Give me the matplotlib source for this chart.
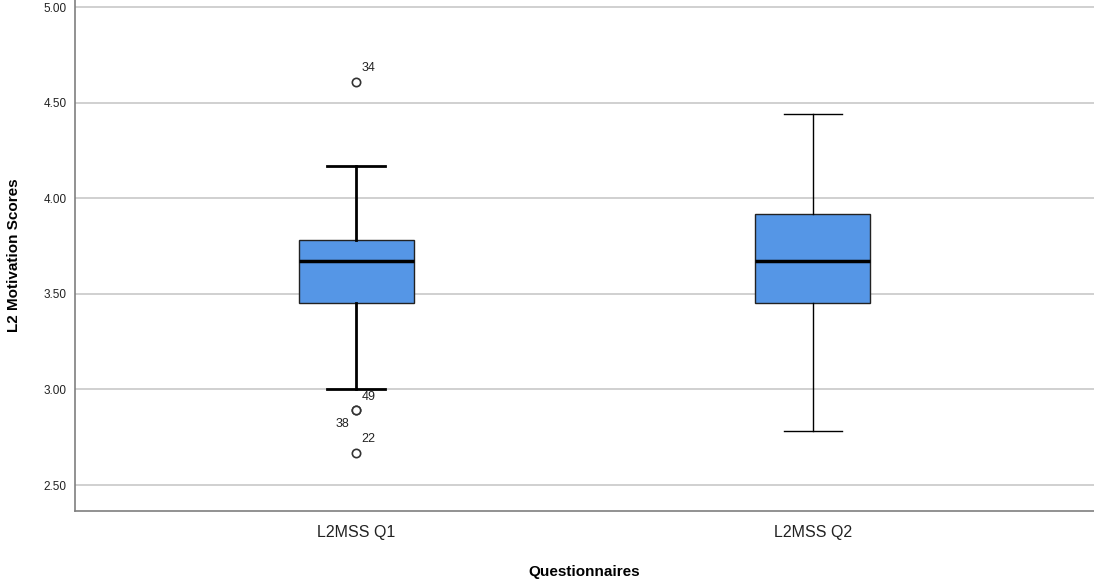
import matplotlib
matplotlib.use("Agg")
import matplotlib.pyplot as plt

categories = ["L2MSS Q1", "L2MSS Q2"]
whisker_low = [3.00, 2.78]
q1 = [3.45, 3.45]
median = [3.67, 3.67]
q3 = [3.78, 3.92]
whisker_high = [4.17, 4.44]
outliers = [[4.61, 2.89, 2.89, 2.67], []]
outlier_labels = [["34", "49", "38", "22"], []]
yticks = [2.50, 3.00, 3.50, 4.00, 4.50, 5.00]

plt.rcParams['font.family'] = ['Liberation Sans', 'DejaVu Sans']

fig = plt.figure(figsize=(10.94, 5.84), dpi=100)
ax = fig.add_axes([75/1094, (584-511)/584, 1 - 75/1094, 511/584])

positions = [1, 2]
for i, pos in enumerate(positions):
    stats = [{
        "whislo": whisker_low[i], "q1": q1[i], "med": median[i],
        "q3": q3[i], "whishi": whisker_high[i], "fliers": outliers[i],
        "label": categories[i],
    }]
    lw = 2.0 if i == 0 else 1.0
    ax.bxp(stats, positions=[pos], widths=0.252, patch_artist=True,
           showfliers=True,
           boxprops=dict(facecolor="#5596E6", edgecolor="#222222", linewidth=1.0),
           medianprops=dict(color="black", linewidth=2.5),
           whiskerprops=dict(color="black", linewidth=lw),
           capprops=dict(color="black", linewidth=lw),
           capwidths=0.126,
           flierprops=dict(marker="o", markerfacecolor="white", markeredgecolor="#333333",
                           markersize=6, markeredgewidth=1.2, linestyle="none"),
           zorder=3)

# outlier labels
offsets = {"34": (4, 10, "left"), "49": (4, 9.5, "left"), "38": (-5, -10, "right"), "22": (4, 9.5, "left")}
for i, pos in enumerate(positions):
    for v, lab in zip(outliers[i], outlier_labels[i]):
        dx, dy, ha = offsets[lab]
        ax.annotate(lab, (pos, v), xytext=(dx, dy), textcoords="offset points",
                    ha=ha, va="center", fontsize=9, color="#222222")

ax.set_xlim(0.384, 2.616)
ax.set_ylim(2.364, 5.037)
ax.set_yticks(yticks)
ax.set_yticklabels([f"{t:.2f}" for t in yticks], fontsize=8.5)
ax.set_xticks(positions)
ax.set_xticklabels(categories, fontsize=11.5)
ax.tick_params(axis="both", length=0, colors="#222222")
ax.tick_params(axis="x", pad=10)
ax.tick_params(axis="y", pad=6)
ax.yaxis.grid(True, color="#c8c8c8", linewidth=1.2, zorder=0)
ax.set_axisbelow(True)
for s in ["top", "right"]:
    ax.spines[s].set_visible(False)
for s in ["left", "bottom"]:
    ax.spines[s].set_color("#7f7f7f")
    ax.spines[s].set_linewidth(1.2)

ax.set_ylabel("L2 Motivation Scores", fontsize=11, fontweight="bold", labelpad=16)
ax.set_xlabel("Questionnaires", fontsize=11, fontweight="bold", labelpad=18)

fig.savefig("out.png", dpi=100)
